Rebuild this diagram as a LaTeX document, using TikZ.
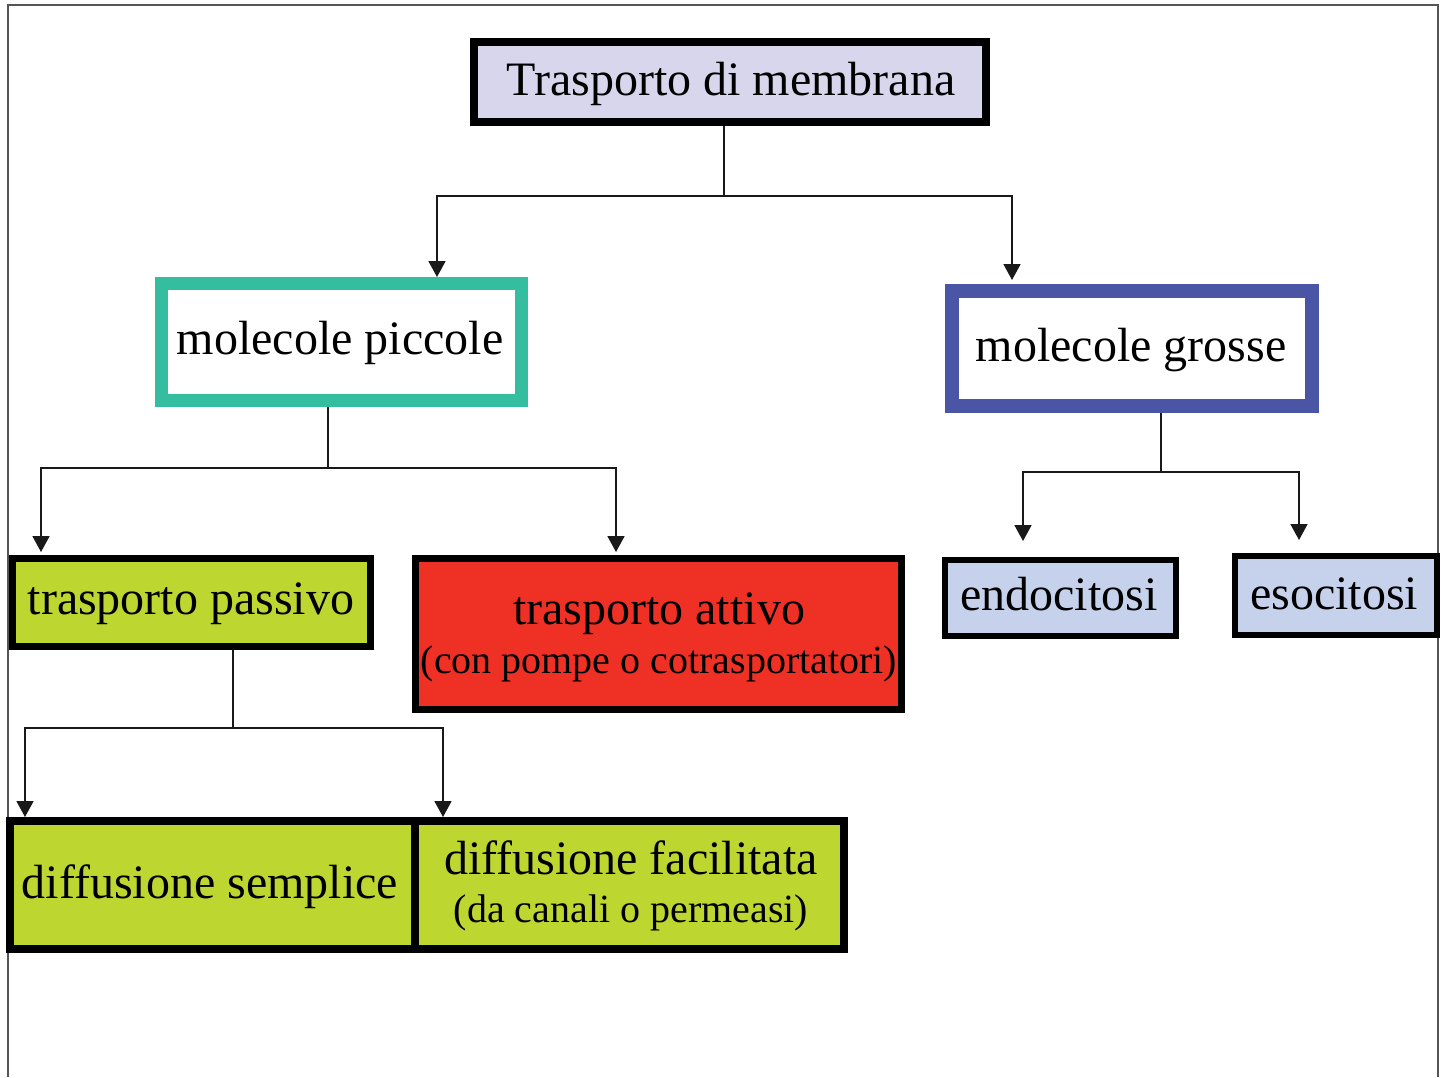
\documentclass[tikz,border=0pt]{standalone}
\usepackage{fontspec}
\setmainfont{Liberation Serif}
\usetikzlibrary{arrows.meta,calc}
\definecolor{lavbg}{HTML}{D8D6EC}
\definecolor{tealc}{HTML}{35BDA0}
\definecolor{bluec}{HTML}{4A55A5}
\definecolor{greenc}{HTML}{BDD630}
\definecolor{redc}{HTML}{EE3124}
\definecolor{lightblue}{HTML}{C6D1EB}
\definecolor{framec}{HTML}{555555}
\tikzset{
  box/.style={draw, rectangle, inner sep=0pt, outer sep=auto},
  bigtxt/.style={inner sep=0pt, anchor=base, font=\fontsize{48}{50}\selectfont},
  smalltxt/.style={inner sep=0pt, anchor=base, font=\fontsize{40}{42}\selectfont},
  conn/.style={draw=black!90, line width=1.8pt},
  arr/.style={conn, -{Triangle[length=16pt,width=17pt]}},
}
\begin{document}
\begin{tikzpicture}[x=1pt,y=-1pt]
\useasboundingbox (0,0) rectangle (1441,1077);
\fill[white] (0,0) rectangle (1441,1077);
% frame
\draw[framec, line width=2pt] (8,1077) -- (8,5) -- (1438,5) -- (1438,1077);

% boxes
\node[box, line width=8pt, fill=lavbg, minimum width=512pt, minimum height=80pt] (top) at (730,82) {};
\node[box, draw=tealc, line width=13pt, fill=white, minimum width=360pt, minimum height=117pt] (picc) at (341.5,342) {};
\node[box, draw=bluec, line width=14pt, fill=white, minimum width=360pt, minimum height=115pt] (gros) at (1132,348.5) {};
\node[box, line width=7pt, fill=greenc, minimum width=358pt, minimum height=88pt] (pass) at (191.5,602.5) {};
\node[box, line width=7pt, fill=redc, minimum width=486pt, minimum height=151pt] (attv) at (658.5,634) {};
\node[box, line width=6pt, fill=lightblue, minimum width=231pt, minimum height=76pt] (endo) at (1060.5,598) {};
\node[box, line width=6pt, fill=lightblue, minimum width=202pt, minimum height=79pt] (eso) at (1336,595.5) {};
\node[box, line width=8pt, fill=greenc, minimum width=405pt, minimum height=128pt] (semp) at (212.5,885) {};
\node[box, line width=8pt, fill=greenc, minimum width=429pt, minimum height=128pt] (faci) at (629.5,885) {};

% texts
\node[bigtxt] (ttop) at (731,95) {Trasporto di membrana};
\node[bigtxt] (tpicc) at (340,354) {molecole piccole};
\node[bigtxt] (tgros) at (1131,361) {molecole grosse};
\node[bigtxt] (tpass) at (191,614) {trasporto passivo};
\node[bigtxt] (tattv) at (659,624) {trasporto attivo};
\node[smalltxt] (tattv2) at (659,673) {(con pompe o cotrasportatori)};
\node[bigtxt] (tendo) at (1059,610) {endocitosi};
\node[bigtxt] (teso) at (1334,609) {esocitosi};
\node[bigtxt] (tsemp) at (210,898) {diffusione semplice};
\node[bigtxt] (tfaci) at (631,874) {diffusione facilitata};
\node[smalltxt] (tfaci2) at (631,922) {(da canali o permeasi)};

% junction points and arrow columns
\coordinate (j1) at (724,196);
\coordinate (c1a) at (437,0);
\coordinate (c1b) at (1012,0);
\coordinate (j2) at (328,468);
\coordinate (c2a) at (41,0);
\coordinate (c2b) at (616,0);
\coordinate (j3) at (1161,472);
\coordinate (c3a) at (1023,0);
\coordinate (c3b) at (1299,0);
\coordinate (j4) at (233,728);
\coordinate (c4a) at (25,0);
\coordinate (c4b) at (443,0);

% connectors
\draw[conn] (j1 |- top.south) -- (j1);
\draw[arr] (j1) -| (c1a |- picc.north);
\draw[arr, shorten >=4pt] (j1) -| (c1b |- gros.north);

\draw[conn] (j2 |- picc.south) -- (j2);
\draw[arr, shorten >=3pt] (j2) -| (c2a |- pass.north);
\draw[arr, shorten >=3pt] (j2) -| (c2b |- attv.north);

\draw[conn] (j3 |- gros.south) -- (j3);
\draw[arr, shorten >=16pt] (j3) -| (c3a |- endo.north);
\draw[arr, shorten >=13pt] (j3) -| (c3b |- eso.north);

\draw[conn] (j4 |- pass.south) -- (j4);
\draw[arr] (j4) -| (c4a |- semp.north);
\draw[arr] (j4) -| (c4b |- faci.north);
\end{tikzpicture}
\end{document}
